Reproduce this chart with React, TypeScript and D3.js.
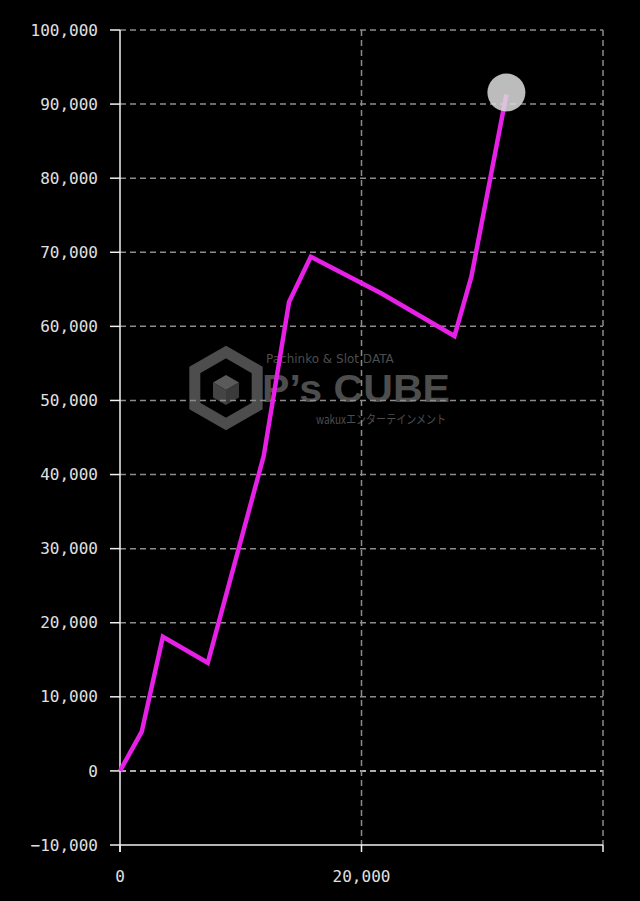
import React from "react";
import * as d3 from "d3";

const xValues = [0, 1800, 3550, 7270, 11900, 14000, 15800, 21700, 27700, 29100, 32000];
const yValues = [0, 5300, 18100, 14600, 42500, 63300, 69400, 64400, 58700, 66700, 91300];
const yTicks = [-10000, 0, 10000, 20000, 30000, 40000, 50000, 60000, 70000, 80000, 90000, 100000];
const xTicks = [0, 20000, 40000];
const xLabelTicks = [0, 20000];

const W = 640, H = 901;
const M = { left: 120, right: 603, top: 30, bottom: 845 };

export default function App() {
  const x = d3.scaleLinear().domain([0, 40000]).range([M.left, M.right]);
  const y = d3.scaleLinear().domain([-10000, 100000]).range([M.bottom, M.top]);
  const pts: [number, number][] = xValues.map((v, i) => [v, yValues[i]]);
  const line = d3.line<[number, number]>().x(d => x(d[0])).y(d => y(d[1]));
  const fmt = d3.format(",");
  const last = pts[pts.length - 1];
  const font = "'DejaVu Sans Mono', monospace";
  const wm = "#4d4d4d";
  const hx = 226, hy = 388, hr = 36;
  const hex = d3.range(6).map(i => {
    const a = Math.PI / 3 * i - Math.PI / 2;
    return [hx + hr * Math.cos(a), hy + hr * Math.sin(a)];
  });
  const hexPath = "M" + hex.map(p => p.join(",")).join("L") + "Z";
  const cr = 15;
  const c = d3.range(6).map(i => {
    const a = Math.PI / 3 * i - Math.PI / 2;
    return [hx + cr * Math.cos(a), hy + 2 + cr * Math.sin(a)];
  });
  const cc = [hx, hy + 2];
  const P = (arr: number[][]) => "M" + arr.map(p => p.join(",")).join("L") + "Z";
  return (
    <svg width={W} height={H} style={{ position: "absolute", left: 0, top: 0, background: "#000" }}>
      <rect x={0} y={0} width={W} height={H} fill="#000" />
      {/* watermark */}
      <g>
        <path d={hexPath} fill="none" stroke={wm} strokeWidth={11} strokeLinejoin="miter" />
        <path d={P([c[5], c[0], c[1], cc])} fill="#5a5a5a" />
        <path d={P([c[5], cc, c[3], c[4]])} fill="#444" />
        <path d={P([cc, c[1], c[2], c[3]])} fill="#3a3a3a" />
        <text x={266} y={363} fill={wm} fontFamily="'DejaVu Sans', sans-serif" fontSize={12}>Pachinko &amp; Slot DATA</text>
        <text x={262} y={402} fill={wm} fontFamily="'Liberation Sans', sans-serif" fontWeight="bold" fontSize={39} textLength={188} lengthAdjust="spacingAndGlyphs">P’s CUBE</text>
        <text x={316} y={424} fill={wm} fontFamily="'Noto Sans CJK JP', sans-serif" fontSize={12} textLength={130} lengthAdjust="spacingAndGlyphs">wakuxエンターテインメント</text>
      </g>
      {/* grid */}
      {yTicks.map(t => (
        <line key={"gy" + t} x1={M.left} x2={M.right} y1={y(t)} y2={y(t)}
          stroke={t === 0 ? "#e6e6e6" : "#8c8c8c"} strokeWidth={1.5} strokeDasharray="6,4"
          opacity={t === -10000 ? 0 : 1} />
      ))}
      {xTicks.filter(t => t > 0).map(t => (
        <line key={"gx" + t} x1={x(t)} x2={x(t)} y1={M.top} y2={M.bottom}
          stroke="#8c8c8c" strokeWidth={1.5} strokeDasharray="6,4" />
      ))}
      {/* axes */}
      <line x1={M.left} x2={M.left} y1={M.top} y2={M.bottom + 7} stroke="#f0f0f0" strokeWidth={1.5} />
      <line x1={M.left} x2={M.right} y1={M.bottom} y2={M.bottom} stroke="#f0f0f0" strokeWidth={1.5} />
      {yTicks.map(t => (
        <g key={"ty" + t}>
          <line x1={M.left - 10} x2={M.left} y1={y(t)} y2={y(t)} stroke="#f0f0f0" strokeWidth={1.5} />
          <text x={98} y={y(t)} dy="0.35em" textAnchor="end" fill="#e0e0e0" fontFamily={font} fontSize={16}>{fmt(t)}</text>
        </g>
      ))}
      {xTicks.map(t => (
        <line key={"tx" + t} x1={x(t)} x2={x(t)} y1={M.bottom} y2={M.bottom + 7} stroke="#f0f0f0" strokeWidth={1.5} />
      ))}
      {xLabelTicks.map(t => (
        <text key={"lx" + t} x={x(t)} y={882} textAnchor="middle" fill="#e0e0e0" fontFamily={font} fontSize={16}>{fmt(t)}</text>
      ))}
      {/* line */}
      <path d={line(pts) || ""} fill="none" stroke="#e620e6" strokeWidth={4.5} strokeLinejoin="miter" />
      <circle cx={x(last[0])} cy={y(last[1]) - 2} r={19} fill="#dddddd" opacity={0.85} />
    </svg>
  );
}
